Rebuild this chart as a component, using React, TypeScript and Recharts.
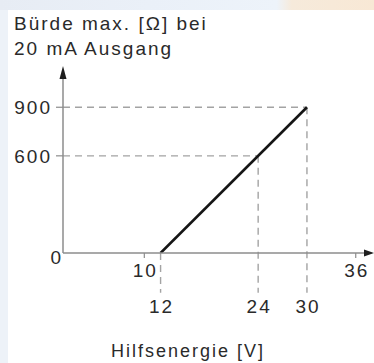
import React from 'react';
import { ComposedChart, Line, XAxis, YAxis, ReferenceLine, ReferenceDot } from 'recharts';

// Bürde (load) over supply voltage
const voltage = [12, 30];
const loadOhm = [0, 900];
const xTicks = [10, 12, 24, 30, 36];
const lowerTicks = [12, 24, 30];
const yTicks = [0, 600, 900];
const xDomain = [0, 38];
const yDomain = [0, 1130];
// points with dashed guide lines to both axes
const guideX = [24, 30];
const guideY = [600, 900];
const dropTo = -245; // guides run below the axis down to the lower labels

const data = voltage.map((v, i) => ({ x: v, y: loadOhm[i] }));

const FONT = '"Liberation Sans", Arial, Helvetica, sans-serif';
const TEXT = '#2a2a2a';
const AXIS = '#8c8c8c';
const DASH = '#a3a3a3';

const XTick = ({ x, y, payload }: any) => {
  const low = lowerTicks.includes(payload.value);
  return (
    <g>
      {!low && <line x1={x} x2={x} y1={y} y2={y + 5} stroke={AXIS} strokeWidth={1.2} />}
      <text
        x={x + 1}
        y={y + (low ? 60 : 24)}
        textAnchor="middle"
        fontFamily={FONT}
        fontSize={19}
        letterSpacing={2}
        fill={TEXT}
      >
        {payload.value}
      </text>
    </g>
  );
};

const YTick = ({ x, y, payload }: any) => {
  if (payload.value === 0) {
    return (
      <text x={x} y={y + 11} textAnchor="end" fontFamily={FONT} fontSize={19} letterSpacing={2} fill={TEXT}>
        0
      </text>
    );
  }
  return (
    <g>
      <line x1={x - 7} x2={x} y1={y} y2={y} stroke={AXIS} strokeWidth={1.2} />
      <text x={x - 11} y={y + 7} textAnchor="end" fontFamily={FONT} fontSize={19} letterSpacing={2} fill={TEXT}>
        {payload.value}
      </text>
    </g>
  );
};

const UpArrow = ({ cx, cy }: any) => (
  <path d={`M${cx},${cy - 4} L${cx - 3.5},${cy + 9} L${cx + 3.5},${cy + 9} Z`} fill="#1e1e1e" />
);

const RightArrow = ({ cx, cy }: any) => (
  <path d={`M${cx + 2},${cy} L${cx - 8},${cy - 3.5} L${cx - 8},${cy + 3.5} Z`} fill="#1e1e1e" />
);

export default function App() {
  return (
    <div style={{ position: 'absolute', left: 0, top: 0, width: 374, height: 363, background: '#fff' }}>
      <div style={{ position: 'absolute', left: 0, top: 0, width: 8, height: 363, background: '#edf2f8' }} />
      <div
        style={{
          position: 'absolute',
          left: 0,
          top: 0,
          width: 374,
          height: 10,
          background:
            'linear-gradient(90deg, #e7ecf4 0%, #eaf0f8 40%, #edf3fa 74%, #f6eadb 78%, #f8e8d5 100%)',
        }}
      />
      <ComposedChart
        width={374}
        height={363}
        data={data}
        margin={{ top: 70, right: 2, bottom: 50, left: 0 }}
        style={{ position: 'absolute', left: 0, top: 0 }}
      >
        <XAxis
          type="number"
          dataKey="x"
          domain={xDomain}
          ticks={xTicks}
          interval={0}
          height={60}
          tickSize={0}
          tickMargin={0}
          tickLine={false}
          axisLine={{ stroke: AXIS, strokeWidth: 1.5 }}
          tick={<XTick />}
          allowDataOverflow
        />
        <YAxis
          type="number"
          domain={yDomain}
          ticks={yTicks}
          interval={0}
          width={63}
          tickSize={0}
          tickMargin={0}
          tickLine={false}
          axisLine={{ stroke: AXIS, strokeWidth: 1.5 }}
          tick={<YTick />}
          allowDataOverflow
        />
        {guideX.map((gx, i) => (
          <ReferenceLine
            key={`h${gx}`}
            segment={[{ x: 0, y: guideY[i] }, { x: gx, y: guideY[i] }]}
            stroke={DASH}
            strokeWidth={1.4}
            strokeDasharray="7 5"
            ifOverflow="visible"
          />
        ))}
        {[voltage[0], ...guideX].map((gx, i) => (
          <ReferenceLine
            key={`v${gx}`}
            segment={[{ x: gx, y: i === 0 ? 0 : guideY[i - 1] }, { x: gx, y: dropTo }]}
            stroke={DASH}
            strokeWidth={1.4}
            strokeDasharray="7 5"
            ifOverflow="visible"
          />
        ))}
        <Line
          type="linear"
          dataKey="y"
          stroke="#151515"
          strokeWidth={2.6}
          dot={false}
          isAnimationActive={false}
        />
        <ReferenceDot x={0} y={yDomain[1]} r={0} shape={<UpArrow />} ifOverflow="visible" />
        <ReferenceDot x={xDomain[1]} y={0} r={0} shape={<RightArrow />} ifOverflow="visible" />
      </ComposedChart>
      <svg width={374} height={363} style={{ position: 'absolute', left: 0, top: 0, pointerEvents: 'none' }}>
        <text x={14} y={30} fontFamily={FONT} fontSize={19} letterSpacing={2} fill={TEXT}>
          Bürde max. [Ω] bei
        </text>
        <text x={14} y={55} fontFamily={FONT} fontSize={19} letterSpacing={2} fill={TEXT}>
          20 mA Ausgang
        </text>
        <text x={111} y={357} fontFamily={FONT} fontSize={18} letterSpacing={2} fill={TEXT}>
          Hilfsenergie [V]
        </text>
      </svg>
    </div>
  );
}
